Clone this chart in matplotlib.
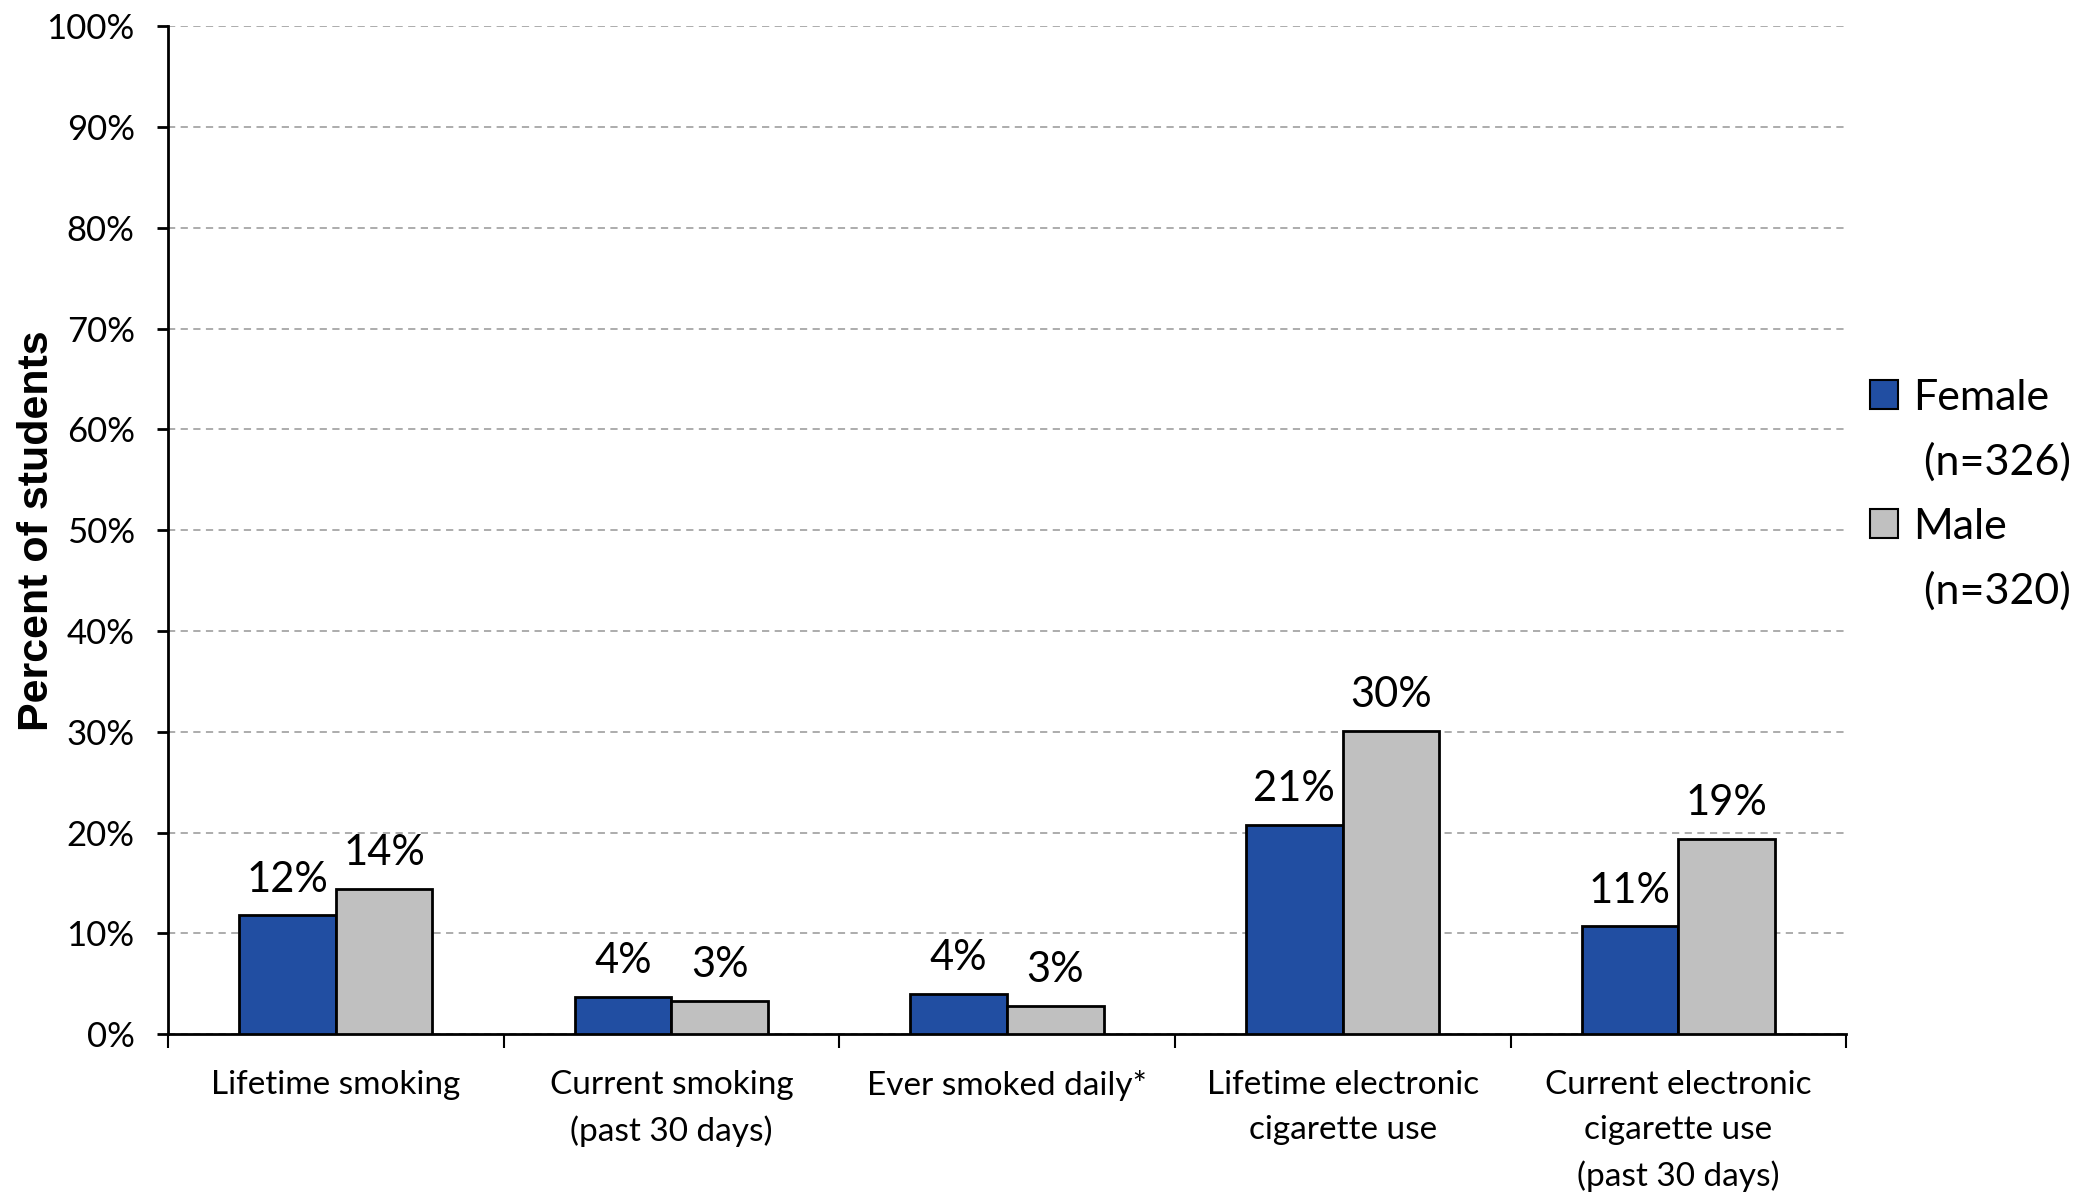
# Grafico de barras: consumo de tabaco y cigarrillo electronico por sexo
import numpy as np
import matplotlib
matplotlib.use('Agg')
import matplotlib.pyplot as plt
from matplotlib.patches import Rectangle

plt.rcParams['font.family'] = ['Lato', 'DejaVu Sans']

# Datos
categorias = ['Lifetime smoking', 'Current smoking\n(past 30 days)', 'Ever smoked daily*',
              'Lifetime electronic\ncigarette use', 'Current electronic\ncigarette use\n(past 30 days)']
mujeres = [11.8, 3.7, 4.0, 20.8, 10.7]
hombres = [14.4, 3.3, 2.8, 30.1, 19.4]
etiquetas_mujeres = ['12%', '4%', '4%', '21%', '11%']
etiquetas_hombres = ['14%', '3%', '3%', '30%', '19%']
series = ['Female', 'Male']
tamanos_n = ['(n=326)', '(n=320)']
yticks = list(range(0, 101, 10))

AZUL = '#214EA2'
GRIS = '#C0C0C0'

fig = plt.figure(figsize=(20.79, 11.97), dpi=100)
ax = fig.add_axes([0.0808, 0.136, 0.8072, 0.842])

x = np.arange(len(categorias))
ancho = 0.288

b1 = ax.bar(x - ancho / 2, mujeres, ancho, color=AZUL, edgecolor='black', linewidth=2, zorder=3)
b2 = ax.bar(x + ancho / 2, hombres, ancho, color=GRIS, edgecolor='black', linewidth=2, zorder=3)

for barras, etiquetas in [(b1, etiquetas_mujeres), (b2, etiquetas_hombres)]:
    for b, txt in zip(barras, etiquetas):
        ax.annotate(txt, (b.get_x() + b.get_width() / 2, b.get_height()),
                    xytext=(0, 17), textcoords='offset points',
                    ha='center', va='baseline', fontsize=30)

ax.set_xlim(-0.5, len(categorias) - 0.5)
ax.set_ylim(0, 100)
ax.set_yticks(yticks)
ax.set_yticklabels([f'{v}%' for v in yticks], fontsize=25)
ax.tick_params(axis='y', length=8, width=2, pad=16)

# ticks mayores en los limites de categoria, etiquetas en los centros
ax.set_xticks(np.arange(-0.5, len(categorias), 1.0))
ax.set_xticklabels([])
ax.tick_params(axis='x', which='major', length=10, width=1.5, direction='out')
ax.set_xticks(x, minor=True)
ax.set_xticklabels(categorias, minor=True, fontsize=24, linespacing=1.6)
ax.tick_params(axis='x', which='minor', length=0, pad=26)

ax.yaxis.grid(True, linestyle=(0, (4, 3)), color='#A6A6A6', linewidth=1.3, zorder=0)
for lado in ['top', 'right']:
    ax.spines[lado].set_visible(False)
ax.spines['left'].set_linewidth(2)
ax.spines['bottom'].set_linewidth(2)

ax.set_ylabel('Percent of students', fontsize=31, fontweight='bold', family=['Liberation Sans'])
ax.yaxis.set_label_coords(-0.066, 0.5)

# leyenda: cuadro solo en la primera linea de cada serie
vacio = Rectangle((0, 0), 1, 1, facecolor='none', edgecolor='none')
manejadores = [Rectangle((0, 0), 1, 1, facecolor=AZUL, edgecolor='black', linewidth=1.5), vacio,
               Rectangle((0, 0), 1, 1, facecolor=GRIS, edgecolor='black', linewidth=1.5), vacio]
textos = [series[0], ' ' + tamanos_n[0], series[1], ' ' + tamanos_n[1]]
ax.legend(manejadores, textos, loc='center left', bbox_to_anchor=(1.004, 0.535), frameon=False,
          fontsize=31, handlelength=0.65, handleheight=0.65, handletextpad=0.35, labelspacing=0.6,
          borderaxespad=0)

fig.savefig('out.png', dpi=100, facecolor='white')
